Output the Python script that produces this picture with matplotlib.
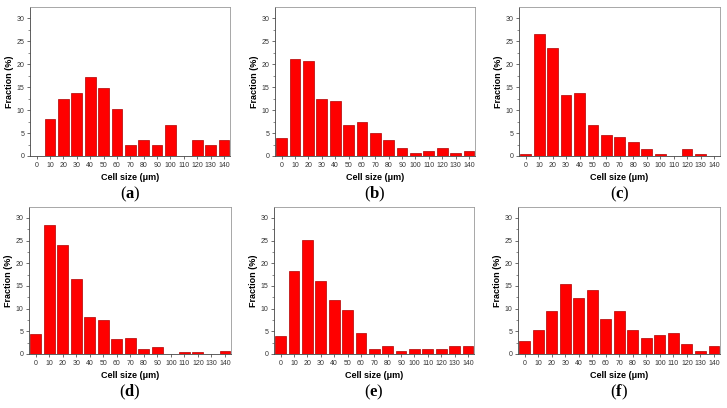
import numpy as np
import matplotlib
matplotlib.use('Agg')
import matplotlib.pyplot as plt
from matplotlib.ticker import MultipleLocator

plt.rcParams['font.family'] = ['Liberation Sans', 'DejaVu Sans']
plt.rcParams['mathtext.fontset'] = 'custom'
plt.rcParams['mathtext.rm'] = 'Liberation Serif'
plt.rcParams['mathtext.bf'] = 'Liberation Serif:bold'

cellSizes = np.arange(0, 150, 10)
tickLabels = [str(v) for v in cellSizes]

fracA = [0, 8.0, 12.5, 13.7, 17.1, 14.8, 10.3, 2.3, 3.4, 2.3, 6.8, 0, 3.4, 2.3, 3.4]
fracB = [4.0, 21.1, 20.6, 12.5, 12.0, 6.8, 7.4, 5.1, 3.4, 1.7, 0.6, 1.1, 1.7, 0.6, 1.1]
fracC = [0.4, 26.6, 23.4, 13.3, 13.8, 6.7, 4.6, 4.1, 3.0, 1.6, 0.4, 0, 1.6, 0.4, 0]
fracD = [4.4, 28.4, 24.0, 16.6, 8.1, 7.4, 3.3, 3.6, 1.1, 1.5, 0, 0.4, 0.4, 0, 0.7]
fracE = [4.0, 18.2, 25.1, 16.0, 12.0, 9.7, 4.6, 1.1, 1.7, 0.6, 1.1, 1.1, 1.1, 1.7, 1.7]
fracF = [2.9, 5.3, 9.5, 15.5, 12.4, 14.2, 7.7, 9.5, 5.3, 3.6, 4.1, 4.7, 2.3, 0.6, 1.8]

panelData = [fracA, fracB, fracC, fracD, fracE, fracF]
panelNames = ['a', 'b', 'c', 'd', 'e', 'f']

W, H = 727, 408
# axes boxes in pixels: left, top, right, bottom
boxes = [
  (30, 7, 230, 156), (275, 7, 475, 156), (519, 7, 720, 156),
  (29, 207, 231, 354), (274, 207, 474, 354), (518, 207, 720, 354),
]

fig = plt.figure(figsize=(W / 100, H / 100), dpi=100)

for i, (vals, name, box) in enumerate(zip(panelData, panelNames, boxes)):
  l, t, r, b = box
  ax = fig.add_axes([l / W, 1 - b / H, (r - l) / W, (b - t) / H])
  ax.bar(cellSizes, vals, width=8, color='#ff0000', edgecolor='#b00000', linewidth=0.5)
  ax.set_xlim(-5, 144.5)
  ax.set_ylim(0, 32.4)
  ax.set_xticks(cellSizes)
  ax.set_xticklabels(tickLabels)
  ax.yaxis.set_major_locator(MultipleLocator(5))
  ax.yaxis.set_minor_locator(MultipleLocator(2.5))
  ax.tick_params(axis='both', which='major', labelsize=5, length=2.5, width=0.5,
                 direction='out', pad=1.5, colors='#333333')
  ax.tick_params(axis='y', which='minor', length=1.5, width=0.4, colors='#333333')
  for side, sp in ax.spines.items():
    sp.set_linewidth(0.6)
    sp.set_color('#444444' if side in ('left', 'bottom') else '#999999')
  ax.set_xlabel('Cell size (\u03bcm)', fontsize=6.5, fontweight='bold', labelpad=3)
  ax.set_ylabel('Fraction (%)', fontsize=6.5, fontweight='bold', labelpad=1.5)
  cx = (l + r) / 2 / W
  cy = 1 - (b + 38) / H
  fig.text(cx, cy, r'$\mathrm{(}\mathbf{' + name + r'}\mathrm{)}$', fontsize=12,
           ha='center', va='center')

fig.savefig('out.png', dpi=100)
